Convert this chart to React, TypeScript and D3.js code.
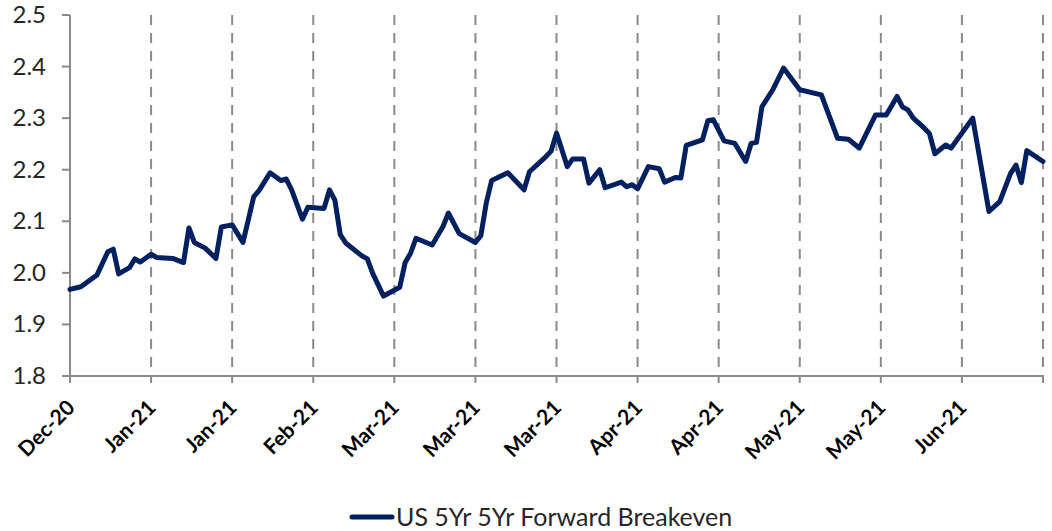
import React, { useEffect, useRef } from 'react';
import * as d3 from 'd3';

const dates = [
  "2020-12-31", "2021-01-02", "2021-01-05", "2021-01-07", "2021-01-08", "2021-01-09",
  "2021-01-11", "2021-01-12", "2021-01-13", "2021-01-15", "2021-01-16", "2021-01-19",
  "2021-01-21", "2021-01-22", "2021-01-23", "2021-01-25", "2021-01-27", "2021-01-28",
  "2021-01-30", "2021-02-01", "2021-02-03", "2021-02-04", "2021-02-06", "2021-02-08",
  "2021-02-09", "2021-02-10", "2021-02-12", "2021-02-13", "2021-02-16", "2021-02-17",
  "2021-02-18", "2021-02-19", "2021-02-20", "2021-02-23", "2021-02-24", "2021-02-25",
  "2021-02-27", "2021-03-02", "2021-03-03", "2021-03-04", "2021-03-05", "2021-03-08",
  "2021-03-10", "2021-03-11", "2021-03-13", "2021-03-16", "2021-03-17", "2021-03-18",
  "2021-03-19", "2021-03-22", "2021-03-25", "2021-03-26", "2021-03-29", "2021-03-30",
  "2021-03-31", "2021-04-02", "2021-04-03", "2021-04-05", "2021-04-06", "2021-04-08",
  "2021-04-09", "2021-04-12", "2021-04-13", "2021-04-14", "2021-04-15", "2021-04-17",
  "2021-04-19", "2021-04-20", "2021-04-22", "2021-04-23", "2021-04-24", "2021-04-27",
  "2021-04-28", "2021-04-29", "2021-05-01", "2021-05-03", "2021-05-05", "2021-05-06",
  "2021-05-07", "2021-05-08", "2021-05-10", "2021-05-12", "2021-05-15", "2021-05-19",
  "2021-05-22", "2021-05-24", "2021-05-26", "2021-05-29", "2021-05-31", "2021-06-02",
  "2021-06-03", "2021-06-04", "2021-06-05", "2021-06-07", "2021-06-08", "2021-06-09",
  "2021-06-11", "2021-06-12", "2021-06-16", "2021-06-19", "2021-06-21", "2021-06-23",
  "2021-06-24", "2021-06-25", "2021-06-26", "2021-06-29"
];
const breakeven = [
  1.968, 1.973, 1.996, 2.041, 2.046, 1.998,
  2.010, 2.027, 2.021, 2.036, 2.030, 2.028,
  2.020, 2.087, 2.059, 2.048, 2.028, 2.089,
  2.093, 2.059, 2.148, 2.160, 2.194, 2.179,
  2.182, 2.161, 2.104, 2.127, 2.125, 2.161,
  2.141, 2.074, 2.058, 2.033, 2.027, 1.999,
  1.955, 1.972, 2.020, 2.038, 2.067, 2.054,
  2.090, 2.116, 2.076, 2.059, 2.072, 2.135,
  2.179, 2.194, 2.161, 2.196, 2.225, 2.236,
  2.271, 2.206, 2.221, 2.221, 2.174, 2.200,
  2.165, 2.176, 2.167, 2.171, 2.163, 2.206,
  2.202, 2.176, 2.185, 2.184, 2.247, 2.258,
  2.295, 2.297, 2.256, 2.251, 2.216, 2.251,
  2.253, 2.322, 2.355, 2.397, 2.355, 2.345,
  2.261, 2.259, 2.242, 2.306, 2.306, 2.342,
  2.322, 2.316, 2.300, 2.281, 2.270, 2.231,
  2.248, 2.242, 2.300, 2.119, 2.138, 2.193,
  2.209, 2.175, 2.237, 2.216
];
const yTicks = [1.8, 1.9, 2.0, 2.1, 2.2, 2.3, 2.4, 2.5];
const seriesName = "US 5Yr 5Yr Forward Breakeven";

const W = 1052;
const H = 531;
const margin = { top: 15, right: 9, bottom: 155, left: 70 };
const navy = "#002060";
const grey = "#8a8a8a";
const font = "Lato, 'Open Sans', sans-serif";

export default function App() {
  const ref = useRef<SVGSVGElement>(null);

  useEffect(() => {
    const svg = d3.select(ref.current);
    svg.selectAll("*").remove();

    const parse = d3.timeParse("%Y-%m-%d");
    const data = dates.map((d, i) => ({ date: parse(d) as Date, value: breakeven[i] }));
    const start = data[0].date;
    const end = data[data.length - 1].date;

    const x = d3.scaleTime().domain([start, end]).range([margin.left, W - margin.right]);
    const y = d3.scaleLinear().domain([1.8, 2.5]).range([H - margin.bottom, margin.top]);

    // excel style date axis, major unit 15 days
    const xTicks = d3.range(0, 181, 15).map(k => d3.timeDay.offset(start, k));
    const fmt = d3.timeFormat("%b-%y");

    // vertical dashed gridlines
    svg.append("g")
      .selectAll("line")
      .data(xTicks.slice(1))
      .join("line")
      .attr("x1", d => x(d)).attr("x2", d => x(d))
      .attr("y1", y(2.5)).attr("y2", y(1.8))
      .attr("stroke", grey)
      .attr("stroke-width", 2)
      .attr("stroke-dasharray", "10,8");

    // y axis
    const yAxis = svg.append("g");
    yAxis.append("line")
      .attr("x1", x(start)).attr("x2", x(start))
      .attr("y1", y(2.5)).attr("y2", y(1.8))
      .attr("stroke", grey).attr("stroke-width", 2);
    yAxis.selectAll(".tk")
      .data(yTicks)
      .join("line")
      .attr("class", "tk")
      .attr("x1", x(start) - 8).attr("x2", x(start))
      .attr("y1", d => y(d)).attr("y2", d => y(d))
      .attr("stroke", grey).attr("stroke-width", 2);
    yAxis.selectAll("text")
      .data(yTicks)
      .join("text")
      .attr("x", 46)
      .attr("y", d => y(d) + 8)
      .attr("text-anchor", "end")
      .attr("font-family", font)
      .attr("font-size", 24)
      .attr("fill", "#262626")
      .text(d => d3.format(".1f")(d));

    // x axis
    const xAxis = svg.append("g");
    xAxis.append("line")
      .attr("x1", x(start)).attr("x2", x(end))
      .attr("y1", y(1.8)).attr("y2", y(1.8))
      .attr("stroke", grey).attr("stroke-width", 2);
    xAxis.selectAll(".tk")
      .data(xTicks)
      .join("line")
      .attr("class", "tk")
      .attr("x1", d => x(d)).attr("x2", d => x(d))
      .attr("y1", y(1.8)).attr("y2", y(1.8) + 7)
      .attr("stroke", grey).attr("stroke-width", 2);
    xAxis.selectAll("text")
      .data(xTicks.slice(0, -1))
      .join("text")
      .attr("transform", d => `translate(${x(d) + 6},${y(1.8) + 33}) rotate(-45)`)
      .attr("text-anchor", "end")
      .attr("font-family", font)
      .attr("font-weight", "bold")
      .attr("font-size", 21)
      .attr("fill", "#000")
      .text(d => fmt(d));

    // series line
    const line = d3.line<{ date: Date; value: number }>()
      .x(d => x(d.date))
      .y(d => y(d.value));
    svg.append("path")
      .datum(data)
      .attr("d", line)
      .attr("fill", "none")
      .attr("stroke", navy)
      .attr("stroke-width", 5)
      .attr("stroke-linejoin", "round")
      .attr("stroke-linecap", "round");

    // legend
    const lg = svg.append("g");
    lg.append("line")
      .attr("x1", 352).attr("x2", 392)
      .attr("y1", 517).attr("y2", 517)
      .attr("stroke", navy).attr("stroke-width", 5)
      .attr("stroke-linecap", "round");
    lg.append("text")
      .attr("x", 396)
      .attr("y", 526)
      .attr("font-family", font)
      .attr("font-size", 25)
      .attr("fill", "#262626")
      .text(seriesName);
  }, []);

  return (
    <svg
      ref={ref}
      width={W}
      height={H}
      style={{ position: "absolute", left: 0, top: 0, background: "#fff" }}
    />
  );
}
